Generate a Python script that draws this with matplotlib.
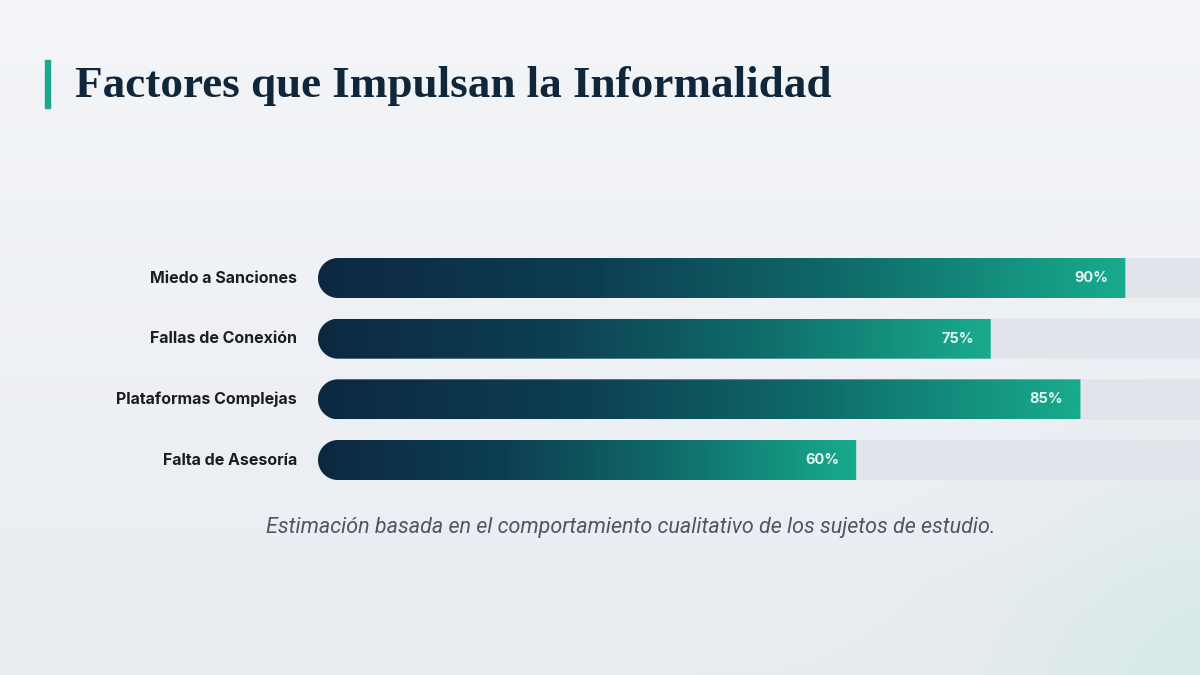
import numpy as np
import matplotlib
matplotlib.use("Agg")
import matplotlib.pyplot as plt
from matplotlib.path import Path
from matplotlib.patches import PathPatch, Rectangle
from matplotlib.colors import LinearSegmentedColormap, to_rgb

# data
factors = ["Miedo a Sanciones", "Fallas de Conexión", "Plataformas Complejas", "Falta de Asesoría"]
values = [90, 75, 85, 60]
title = "Factores que Impulsan la Informalidad"
note = "Estimación basada en el comportamiento cualitativo de los sujetos de estudio."

W, H = 1200, 675
fig = plt.figure(figsize=(12, 6.75), dpi=100)

# background with soft glow bottom right
ax_bg = fig.add_axes([0, 0, 1, 1])
yy, xx = np.mgrid[0:H, 0:W]
top = np.array(to_rgb("#f3f5f8"))
bot = np.array(to_rgb("#e9ecf1"))
t = (yy / H)[..., None]
img = top * (1 - t) + bot * t
d = np.hypot(xx - 1230, yy - 700)
g = (np.exp(-(d / 200.0) ** 2) * 0.7)[..., None]
img = img * (1 - g) + np.array(to_rgb("#cde7e4")) * g
ax_bg.imshow(img, extent=[0, W, H, 0], aspect="auto")
ax_bg.axis("off")

# main axes: x in percent, y in row index
px_per_pct = 8.97
x0_px = 318
ax = fig.add_axes([0, 0, 1, 1])
ax.patch.set_alpha(0)
ax.set_xlim(-x0_px / px_per_pct, (W - x0_px) / px_per_pct)
row_px = 60.67
row0_px = 278
ax.set_ylim((H - row0_px) / row_px, -row0_px / row_px)
ax.axis("off")

bar_h = 40 / row_px
rx = 20 / px_per_pct
cmap = LinearSegmentedColormap.from_list(
    "bar", [(0, "#0c2841"), (0.35, "#0d3f52"), (0.65, "#0f6b69"), (1, "#18ab8e")])
grad = np.linspace(0, 1, 256).reshape(1, -1)


def left_pill(x1, yc):
    ry = bar_h / 2
    ts = np.linspace(1.5 * np.pi, 0.5 * np.pi, 40)
    arc = [(rx + rx * np.cos(a), yc + ry * np.sin(a)) for a in ts]
    verts = [(x1, yc - ry)] + arc + [(x1, yc + ry), (x1, yc - ry)]
    codes = [Path.MOVETO] + [Path.LINETO] * (len(verts) - 2) + [Path.CLOSEPOLY]
    return Path(verts, codes)


for i, (lab, v) in enumerate(zip(factors, values)):
    track = PathPatch(left_pill(110, i), facecolor="#e1e5eb", edgecolor="none", zorder=1)
    ax.add_patch(track)
    clip = PathPatch(left_pill(v, i), facecolor="none", edgecolor="none")
    ax.add_patch(clip)
    im = ax.imshow(grad, cmap=cmap, aspect="auto", zorder=2,
                   extent=[0, v, i + bar_h / 2, i - bar_h / 2])
    im.set_clip_path(clip)
    ax.text(v - 1.9, i, f"{v}%", ha="right", va="center", color="#e3f6f0",
            fontsize=10.5, fontweight="bold", family=["Inter", "DejaVu Sans"], zorder=3)
    ax.text(-2.35, i, lab, ha="right", va="center", color="#1b1d21",
            fontsize=11.5, fontweight="bold", family=["Inter", "DejaVu Sans"], zorder=3)

# title with accent bar
fig.patches.append(Rectangle((45 / W, 1 - 108 / H), 5 / W, 48 / H,
                             transform=fig.transFigure, color="#1aa88a"))
fig.text(75 / W, 1 - 86 / H, title, ha="left", va="center", color="#10263a",
         fontsize=32.5, fontweight="bold", family=["Liberation Serif", "DejaVu Serif"])

fig.text(631 / W, 1 - 527 / H, note, ha="center", va="center", color="#4f5562",
         fontsize=15.5, style="italic", family=["Roboto", "DejaVu Sans"])

fig.savefig("out.png", dpi=100)
